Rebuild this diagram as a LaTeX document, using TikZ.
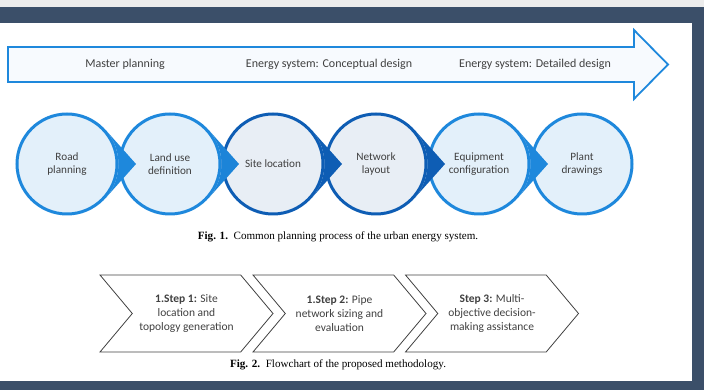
\documentclass[tikz,border=0pt]{standalone}
\usepackage{fontspec}
\setmainfont{Carlito}
\newfontfamily\capfont{Liberation Serif}
\usetikzlibrary{positioning,calc,shapes.symbols}

\definecolor{frameblue}{HTML}{3B4F69}
\definecolor{procblue}{HTML}{1E88DC}
\definecolor{procfill}{HTML}{E3F0FA}
\definecolor{designblue}{HTML}{0E5DB4}
\definecolor{designfill}{HTML}{E8EEF5}
\definecolor{txtgray}{HTML}{404040}

\begin{document}
\begin{tikzpicture}[x=1pt, y=1pt,
    stage/.style={circle, draw=procblue, fill=procfill, line width=3pt,
                  minimum size=100pt, inner sep=0pt, align=center,
                  font=\fontsize{11.2}{13.5}\selectfont, text=txtgray},
    dstage/.style={stage, draw=designblue, fill=designfill},
    phase/.style={font=\fontsize{12}{14}\selectfont, text=txtgray},
    stepbox/.style={signal, signal to=east, signal from=west,
                    signal pointer angle=100, draw=txtgray, line width=0.8pt,
                    minimum width=173pt, minimum height=77pt, inner sep=0pt,
                    align=center, font=\fontsize{11.5}{14}\selectfont,
                    text=txtgray},
    caption/.style={font=\capfont\fontsize{11.1}{13}\selectfont},
    node distance=0pt,
]
% page frame
\useasboundingbox (0,0) rectangle (704,390);
\fill[gray!15] (0,383) rectangle (704,390);
\fill[frameblue] (0,367) rectangle (704,383);
\fill[frameblue] (692,0) rectangle (704,383);
\fill[frameblue] (0,0) rectangle (704,9);

% design phases
\draw[procblue, line width=1.8pt, fill=procfill!30!white, line join=miter]
  (8,343) -- (634,343) -- (634,360) -- (668,325.5) -- (634,291)
  -- (634,308) -- (8,308) -- cycle;
\node[phase] (mp) at (125,325.5) {Master planning};
\node[phase] (cd) at (329,325.5) {Energy system: Conceptual design};
\node[phase] (dd) at (535,325.5) {Energy system: Detailed design};

% planning stages
\node[stage] (s1) at (67,226) {Road\\planning};
\node[stage, right=of s1] (s2) {Land use\\definition};
\node[dstage, right=of s2] (s3) {Site location};
\node[dstage, right=of s3] (s4) {Network\\layout};
\node[stage, right=of s4] (s5) {Equipment\\configuration};
\node[stage, right=of s5] (s6) {Plant\\drawings};

% pointers between stages
\fill[procblue] ($(s1.center)+(69,0)$) -- (s1.42) arc[start angle=42, end angle=-42, radius=51.5pt] -- cycle;
\fill[procblue!90!designblue] ($(s2.center)+(69,0)$) -- (s2.42) arc[start angle=42, end angle=-42, radius=51.5pt] -- cycle;
\fill[designblue] ($(s3.center)+(69,0)$) -- (s3.42) arc[start angle=42, end angle=-42, radius=51.5pt] -- cycle;
\fill[designblue] ($(s4.center)+(69,0)$) -- (s4.42) arc[start angle=42, end angle=-42, radius=51.5pt] -- cycle;
\fill[procblue] ($(s5.center)+(69,0)$) -- (s5.42) arc[start angle=42, end angle=-42, radius=51.5pt] -- cycle;

\node[caption] (cap1) at (338,153) {\textbf{Fig. 1.}\enspace Common planning process of the urban energy system.};

% methodology steps
\node[stepbox] (st1) at (186.5,76.5) {\textbf{1.Step 1:} Site\\location and\\topology generation};
\node[stepbox] (st2) at (339.5,76.5) {\textbf{1.Step 2:} Pipe\\network sizing and\\evaluation};
\node[stepbox] (st3) at (492,76.5) {\textbf{Step 3:} Multi-\\objective decision-\\making assistance};

\node[caption] (cap2) at (338,25) {\textbf{Fig. 2.}\enspace Flowchart of the proposed methodology.};
\end{tikzpicture}
\end{document}
